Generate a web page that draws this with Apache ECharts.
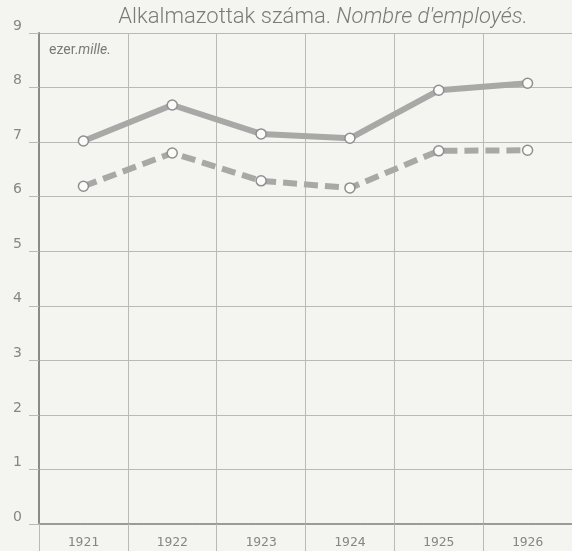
<!DOCTYPE html>
<html>
<head>
<meta charset="utf-8">
<script src="https://cdn.jsdelivr.net/npm/echarts@6/dist/echarts.min.js"></script>
<style>
  html, body { margin: 0; background: #f4f4f1; }
</style>
</head>
<body>
<div id="main" style="width: 572px; height: 551px"></div>
<script>
// évek / années
const years = ["1921", "1922", "1923", "1924", "1925", "1926"];
// ezer alkalmazott (solid line)
const employeesA = [7.02, 7.68, 7.15, 7.07, 7.95, 8.08];
// second series (dashed line)
const employeesB = [6.19, 6.80, 6.29, 6.16, 6.84, 6.85];
const yTicks = [0, 1, 2, 3, 4, 5, 6, 7, 8, 9];

const gridColor = "#b9b9b6";
const inkColor = "#8a8a88";

let chart = echarts.init(document.getElementById("main"));
chart.setOption({
  backgroundColor: "#f4f4f1",
  animation: false,
  title: [
    {
      left: 318,
      textAlign: "center",
      top: 1,
      text: "{a|Alkalmazottak száma. }{b|Nombre d'employés.}",
      textStyle: {
        rich: {
          a: { fontFamily: "Roboto", fontSize: 22, color: "#7a7a78", fontWeight: 300 },
          b: { fontFamily: "Roboto", fontSize: 22, color: "#7a7a78", fontStyle: "italic", fontWeight: 300 }
        }
      }
    },
    {
      left: 44,
      top: 38,
      text: "{a|ezer.}{b|mille.}",
      textStyle: {
        rich: {
          a: { fontFamily: "Roboto", fontSize: 14, color: "#7a7a78", fontWeight: "normal" },
          b: { fontFamily: "Roboto", fontSize: 14, color: "#7a7a78", fontStyle: "italic", fontWeight: "normal" }
        }
      }
    }
  ],
  grid: { left: 39, right: -7, top: 33, bottom: 27 },
  xAxis: {
    type: "category",
    data: years,
    boundaryGap: true,
    axisLine: { show: true, lineStyle: { color: "#9a9a98", width: 2, type: [6, 1] } },
    axisTick: { show: true, alignWithLabel: false, length: 27, lineStyle: { color: gridColor, width: 1 } },
    axisLabel: { margin: 12, color: "#868684", fontFamily: "DejaVu Sans Mono", fontSize: 13 },
    splitLine: { show: true, lineStyle: { color: gridColor, width: 1 } }
  },
  yAxis: {
    type: "value",
    min: 0,
    max: 9,
    interval: 1,
    axisLine: { show: true, lineStyle: { color: inkColor, width: 2 } },
    axisTick: { show: true, length: 10, lineStyle: { color: gridColor } },
    axisLabel: {
      margin: 17,
      verticalAlign: "bottom",
      color: "#868684",
      fontFamily: "DejaVu Sans",
      fontSize: 14,
      formatter: (v) => (yTicks.includes(v) ? String(v) : "")
    },
    splitLine: { show: true, lineStyle: { color: gridColor, width: 1 } }
  },
  series: [
    {
      type: "line",
      data: employeesA,
      symbol: "circle",
      symbolSize: 10,
      z: 5,
      lineStyle: { color: "#a8a8a6", width: 6 },
      itemStyle: { color: "#fbfbf9", borderColor: "#8f8f8d", borderWidth: 1.5 }
    },
    {
      type: "line",
      data: employeesB,
      symbol: "circle",
      symbolSize: 10,
      z: 5,
      lineStyle: { color: "#a8a8a6", width: 6, type: [14, 7] },
      itemStyle: { color: "#fbfbf9", borderColor: "#8f8f8d", borderWidth: 1.5 }
    }
  ]
});
</script>
</body>
</html>
